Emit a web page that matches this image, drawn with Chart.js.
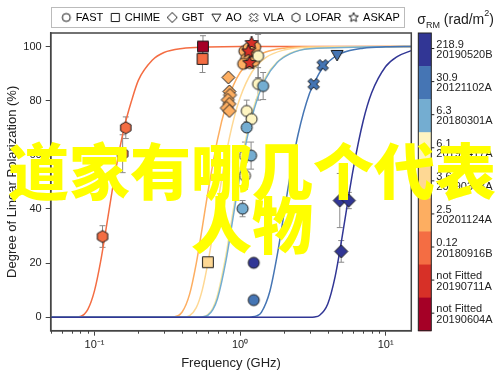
<!DOCTYPE html>
<html>
<head>
<meta charset="utf-8">
<script src="https://cdn.jsdelivr.net/npm/chart.js@4.4.1/dist/chart.umd.min.js"></script>
<style>
  html, body { margin: 0; padding: 0; background: #fff; }
  #wrap { position: relative; width: 500px; height: 378px; }
  #mark {
    position: absolute; left: 2px; top: 142px; width: 500px;
    text-align: center; color: #ffff00;
    font-family: "Noto Sans CJK SC", sans-serif; font-weight: 900;
    font-size: 61px; line-height: 54px; pointer-events: none;
  }
</style>
</head>
<body>
<div id="wrap">
  <canvas id="myChart" width="500" height="378"></canvas>
  <div id="mark">道家有哪几个代表<br>人物</div>
</div>
<script>
// FRBs, ordered as in the colour bar (top to bottom)
const frbNames = ['20190520B', '20121102A', '20180301A', '20190417A', '20190303A', '20201124A', '20180916B', '20190711A', '20190604A'];
const frbSigma = ['218.9', '30.9', '6.3', '6.1', '3.6', '2.5', '0.12', 'not Fitted', 'not Fitted'];
const frbColors = ['#313695', '#4575b4', '#74add1', '#fef5c2', '#fed894', '#fdae61', '#f46d43', '#d73027', '#a50026'];

// measurements per telescope (freq in GHz, PL in %, err = half bar, frb = index above)
const fastFreq = [1.07, 1.14, 1.21, 1.10, 1.17, 1.05, 1.27, 1.25, 1.33, 1.33, 1.11, 1.20, 1.08, 1.08, 1.44, 1.11, 1.19, 1.04, 1.24, 1.24];
const fastPol  = [98.3, 99.4, 97.6, 95.4, 93.9, 93.6, 99.8, 94.7, 96.5, 86.2, 76.2, 73.2, 59.7, 52.3, 85.4, 70.1, 59.7, 40.1, 20.1, 6.3];
const fastErr  = [0, 0, 0, 0, 0, 0, 0, 0, 8, 6, 4, 0, 5, 5, 5, 0, 5, 3, 0, 0];
const fastFrb  = [5, 5, 5, 5, 5, 5, 5, 5, 3, 3, 3, 3, 3, 3, 2, 2, 2, 2, 0, 1];

const chimeFreq = [0.556, 0.552, 0.601];
const chimePol  = [100, 95.4, 20.3];
const chimeErr  = [4, 5, 0];
const chimeFrb  = [8, 6, 4];

const gbtFreq = [0.830, 0.844, 0.853, 0.823, 0.844, 0.809, 0.844, 4.84, 5.58, 4.95];
const gbtPol  = [88.6, 83.4, 82.1, 80.3, 78.8, 77.3, 76.2, 43.1, 43.1, 24.3];
const gbtErr  = [0, 0, 0, 0, 0, 0, 0, 10, 3, 4];
const gbtFrb  = [5, 5, 5, 5, 5, 5, 5, 0, 0, 0];

const aoFreq = [4.64];
const aoPol  = [96.9];
const aoErr  = [0];
const aoFrb  = [1];

const vlaFreq = [3.2, 3.69];
const vlaPol  = [86.1, 93.1];
const vlaErr  = [0, 0];
const vlaFrb  = [1, 1];

const lofarFreq = [0.1135, 0.156, 0.164];
const lofarPol  = [29.8, 60.4, 70.0];
const lofarErr  = [4, 7, 4];
const lofarFrb  = [6, 6, 6];

const askapFreq = [1.20, 1.14, 1.16];
const askapPol  = [101.3, 98.2, 93.9];
const askapErr  = [0, 0, 0];
const askapFrb  = [7, 7, 7];

// depolarization fits
const fit0916Freq = [0.05, 0.07, 0.08, 0.09, 0.10, 0.11, 0.12, 0.13, 0.14, 0.16, 0.18, 0.20, 0.25, 0.30, 0.40, 0.60, 1, 15];
const fit0916Pol  = [0, 0, 0.3, 2.9, 9.8, 20.4, 32.6, 44.3, 54.6, 70.1, 80.1, 87.5, 95.0, 97.8, 99.3, 99.8, 100, 100];
const fit1124Freq = [0.05, 0.3, 0.35, 0.4, 0.45, 0.5, 0.55, 0.6, 0.7, 0.8, 0.9, 1.0, 1.2, 1.5, 2.0, 3.0, 15];
const fit1124Pol  = [0, 0, 0.1, 1.9, 8.5, 19.9, 33.2, 45.9, 65.7, 78.2, 85.7, 90.4, 95.2, 98.0, 99.4, 99.9, 100];
const fit0303Freq = [0.05, 0.4, 0.45, 0.5, 0.55, 0.6, 0.65, 0.7, 0.8, 0.9, 1.0, 1.2, 1.5, 2.0, 3.0, 15];
const fit0303Pol  = [0, 0, 0.6, 3.5, 10.1, 19.9, 30.9, 41.8, 60.0, 72.7, 81.1, 90.4, 95.9, 98.7, 99.7, 100];
const fit0417Freq = [0.05, 0.5, 0.55, 0.6, 0.65, 0.7, 0.8, 0.9, 1.0, 1.1, 1.2, 1.3, 1.5, 1.8, 2.2, 3.0, 15];
const fit0417Pol  = [0, 0, 0.1, 1.0, 3.4, 8.2, 23.0, 40.0, 54.8, 66.3, 74.8, 81.0, 88.8, 94.4, 97.5, 99.3, 100];
const fit0301Freq = [0.05, 0.5, 0.55, 0.6, 0.65, 0.7, 0.8, 0.9, 1.0, 1.1, 1.2, 1.3, 1.5, 1.8, 2.2, 3.0, 15];
const fit0301Pol  = [0, 0, 0.1, 0.7, 2.8, 6.9, 20.9, 37.6, 52.7, 64.5, 73.4, 79.9, 88.1, 94.1, 97.3, 99.2, 100];
const fit1102Freq = [0.05, 1.1, 1.2, 1.3, 1.4, 1.6, 1.8, 2.0, 2.2, 2.5, 3.0, 3.5, 4.0, 5.0, 7.0, 10, 15];
const fit1102Pol  = [0, 0, 0.1, 0.5, 1.8, 9.5, 23.0, 38.1, 51.8, 67.4, 82.7, 90.2, 94.2, 97.6, 99.4, 99.9, 100];
const fit0520Freq = [0.05, 3.0, 3.25, 3.5, 4.0, 4.5, 5.0, 5.5, 6.0, 7.0, 8.0, 10, 12, 15];
const fit0520Pol  = [0, 0, 0.1, 0.6, 4.9, 15.1, 29.0, 42.9, 55.0, 72.4, 82.8, 92.6, 96.3, 98.5];

// axis ticks
const xMajorTicks = [0.1, 1, 10];
const xTickLabels = ['10\u207B\u00B9', '10\u2070', '10\u00B9'];
const xMinorTicks = [0.05, 0.06, 0.07, 0.08, 0.09, 0.2, 0.3, 0.4, 0.5, 0.6, 0.7, 0.8, 0.9, 2, 3, 4, 5, 6, 7, 8, 9];
const yTicks = [0, 20, 40, 60, 80, 100];

const instNames = ['FAST', 'CHIME', 'GBT', 'AO', 'VLA', 'LOFAR', 'ASKAP'];

function makeMarker(shape, fill, size) {
  const d = Math.ceil(size + 4);
  const c = document.createElement('canvas');
  c.width = d; c.height = d;
  const g = c.getContext('2d');
  const m = d / 2, r = size / 2;
  let pts = [];
  g.beginPath();
  if (shape === 'circle') {
    g.arc(m, m, r, 0, Math.PI * 2);
  } else {
    if (shape === 'square') pts = [[-r, -r], [r, -r], [r, r], [-r, r]].map(p => [p[0] * 0.9, p[1] * 0.9]);
    else if (shape === 'diamond') pts = [[0, -r], [r, 0], [0, r], [-r, 0]];
    else if (shape === 'triangleDown') pts = [[-r, -r * 0.75], [r, -r * 0.75], [0, r]];
    else if (shape === 'hexagon') {
      for (let k = 0; k < 6; k++) { const t = -Math.PI / 2 + k * Math.PI / 3; pts.push([r * Math.cos(t), r * Math.sin(t)]); }
    } else if (shape === 'star') {
      for (let k = 0; k < 10; k++) { const t = -Math.PI / 2 + k * Math.PI / 5; const rr = k % 2 ? r * 0.45 : r; pts.push([rr * Math.cos(t), rr * Math.sin(t)]); }
    } else if (shape === 'x') {
      const a = r * 0.34;
      const plus = [[a, -r], [a, -a], [r, -a], [r, a], [a, a], [a, r], [-a, r], [-a, a], [-r, a], [-r, -a], [-a, -a], [-a, -r]];
      pts = plus.map(([px, py]) => [(px - py) * Math.SQRT1_2, (px + py) * Math.SQRT1_2]);
    }
    pts.forEach(([px, py], k) => k ? g.lineTo(m + px, m + py) : g.moveTo(m + px, m + py));
    g.closePath();
  }
  g.fillStyle = fill;
  g.fill();
  g.lineWidth = 1;
  g.strokeStyle = '#1a1a1a';
  g.stroke();
  return c;
}

const pointSets = [
  { name: 'ASKAP', shape: 'star', size: 14, lsize: 10, freq: askapFreq, pol: askapPol, err: askapErr, frb: askapFrb },
  { name: 'FAST', shape: 'circle', size: 11, lsize: 8, freq: fastFreq, pol: fastPol, err: fastErr, frb: fastFrb },
  { name: 'VLA', shape: 'x', size: 12, lsize: 9, freq: vlaFreq, pol: vlaPol, err: vlaErr, frb: vlaFrb },
  { name: 'AO', shape: 'triangleDown', size: 12, lsize: 9, freq: aoFreq, pol: aoPol, err: aoErr, frb: aoFrb },
  { name: 'GBT', shape: 'diamond', size: 13, lsize: 10, freq: gbtFreq, pol: gbtPol, err: gbtErr, frb: gbtFrb },
  { name: 'CHIME', shape: 'square', size: 12, lsize: 9, freq: chimeFreq, pol: chimePol, err: chimeErr, frb: chimeFrb },
  { name: 'LOFAR', shape: 'hexagon', size: 12, lsize: 9, freq: lofarFreq, pol: lofarPol, err: lofarErr, frb: lofarFrb }
];

const fits = [
  { freq: fit0520Freq, pol: fit0520Pol, frb: 0 },
  { freq: fit1102Freq, pol: fit1102Pol, frb: 1 },
  { freq: fit0301Freq, pol: fit0301Pol, frb: 2 },
  { freq: fit0417Freq, pol: fit0417Pol, frb: 3 },
  { freq: fit0303Freq, pol: fit0303Pol, frb: 4 },
  { freq: fit1124Freq, pol: fit1124Pol, frb: 5 },
  { freq: fit0916Freq, pol: fit0916Pol, frb: 6 }
];

const datasets = [];
pointSets.forEach((s, i) => {
  datasets.push({
    label: s.name,
    data: s.freq.map((f, k) => ({ x: f, y: s.pol[k] })),
    errs: s.err,
    pointStyle: s.frb.map(k => makeMarker(s.shape, frbColors[k], s.size)),
    pointRadius: 6,
    showLine: false,
    order: i
  });
});
fits.forEach((f, i) => {
  datasets.push({
    label: 'fit ' + frbNames[f.frb],
    data: f.freq.map((v, k) => ({ x: v, y: f.pol[k] })),
    showLine: true,
    borderColor: frbColors[f.frb] === '#fef5c2' ? '#f7e7a0' : frbColors[f.frb],
    borderWidth: 1.5,
    pointRadius: 0,
    cubicInterpolationMode: 'monotone',
    order: 10 + i
  });
});

const legendMarkers = instNames.map(n => {
  const s = pointSets.find(p => p.name === n);
  return makeMarker(s.shape, '#fff', s.lsize);
});

const extras = {
  id: 'extras',
  beforeDatasetsDraw(chart) {
    const ctx = chart.ctx, x = chart.scales.x, y = chart.scales.y;
    ctx.save();
    ctx.strokeStyle = '#8a8a8a';
    ctx.lineWidth = 1;
    chart.data.datasets.forEach(ds => {
      if (!ds.errs) return;
      ds.data.forEach((p, k) => {
        const e = ds.errs[k];
        if (!e) return;
        const px = x.getPixelForValue(p.x);
        const t = y.getPixelForValue(p.y + e), b = y.getPixelForValue(p.y - e);
        ctx.beginPath();
        ctx.moveTo(px, t); ctx.lineTo(px, b);
        ctx.moveTo(px - 3, t); ctx.lineTo(px + 3, t);
        ctx.moveTo(px - 3, b); ctx.lineTo(px + 3, b);
        ctx.stroke();
      });
    });
    ctx.restore();
  },
  afterDraw(chart) {
    const ctx = chart.ctx, a = chart.chartArea, x = chart.scales.x;
    ctx.save();
    // frame
    ctx.strokeStyle = '#444';
    ctx.lineWidth = 1.5;
    ctx.strokeRect(a.left, a.top, a.right - a.left, a.bottom - a.top);
    // minor ticks
    ctx.lineWidth = 1;
    ctx.beginPath();
    xMinorTicks.forEach(v => {
      const px = Math.round(x.getPixelForValue(v)) + 0.5;
      ctx.moveTo(px, a.bottom); ctx.lineTo(px, a.bottom + 3);
    });
    ctx.stroke();
    // legend frame
    const hb = chart.legend.legendHitBoxes;
    if (hb && hb.length) {
      const l = Math.min(...hb.map(h => h.left)) - 11;
      const r = Math.max(...hb.map(h => h.left + h.width)) + 5;
      const t = hb[0].top - 5, h = hb[0].height + 9;
      ctx.strokeStyle = '#bbb';
      ctx.lineWidth = 1;
      ctx.strokeRect(Math.round(l) + 0.5, Math.round(t) + 0.5, Math.round(r - l), Math.round(h));
    }
    // colour bar
    const x0 = a.right + 7, w = 13;
    const segH = (a.bottom - a.top) / frbColors.length;
    frbColors.forEach((c, i) => {
      ctx.fillStyle = c;
      ctx.fillRect(x0, a.top + i * segH, w, segH + 0.5);
    });
    ctx.strokeStyle = '#222';
    ctx.strokeRect(x0, a.top, w, a.bottom - a.top);
    ctx.fillStyle = '#222';
    ctx.font = '11px "Liberation Sans", Arial, sans-serif';
    ctx.textBaseline = 'middle';
    ctx.textAlign = 'left';
    frbNames.forEach((n, i) => {
      const cy = a.top + (i + 0.5) * segH;
      ctx.beginPath();
      ctx.moveTo(x0 + w, cy - 1); ctx.lineTo(x0 + w + 3, cy - 1);
      ctx.stroke();
      ctx.fillText(frbSigma[i], x0 + w + 5, cy - 5);
      ctx.fillText(n, x0 + w + 5, cy + 5.5);
    });
    // colour bar title: sigma_RM (rad/m^2)
    ctx.textBaseline = 'alphabetic';
    let tx = x0 - 1;
    const big = '14px "Liberation Sans", Arial, sans-serif', small = '9px "Liberation Sans", Arial, sans-serif';
    const parts = [['\u03C3', big, 24], ['RM', small, 27.5], [' (rad/m', big, 24], ['2', small, 16], [')', big, 24]];
    parts.forEach(([s, f, by]) => {
      ctx.font = f;
      ctx.fillText(s, tx, by);
      tx += ctx.measureText(s).width;
    });
    ctx.restore();
  }
};

Chart.defaults.font.family = '"Liberation Sans", Arial, sans-serif';
Chart.defaults.color = '#222';

const ctx = document.getElementById('myChart').getContext('2d');
const myChart = new Chart(ctx, {
  type: 'scatter',
  data: { datasets: datasets },
  options: {
    responsive: false,
    animation: false,
    events: [],
    layout: { padding: { top: 4, right: 88.7, left: 0, bottom: 0 } },
    plugins: {
      tooltip: { enabled: false },
      legend: {
        position: 'top',
        fullSize: false,
        labels: {
          usePointStyle: true,
          boxWidth: 8,
          boxHeight: 10,
          padding: 8,
          font: { size: 11 },
          color: '#222',
          generateLabels: () => instNames.map((n, i) => ({
            text: n,
            pointStyle: legendMarkers[i],
            fillStyle: '#fff',
            strokeStyle: '#000',
            lineWidth: 0,
            hidden: false,
            datasetIndex: pointSets.findIndex(p => p.name === n)
          }))
        }
      }
    },
    scales: {
      x: {
        type: 'logarithmic',
        min: 0.05,
        max: 15,
        afterBuildTicks: s => { s.ticks = xMajorTicks.map(v => ({ value: v })); },
        afterFit: s => { s.height = 47.3; },
        ticks: {
          autoSkip: false,
          maxRotation: 0,
          padding: 3,
          font: { size: 11 },
          callback: v => xTickLabels[xMajorTicks.indexOf(v)]
        },
        grid: { display: true, drawOnChartArea: false, tickLength: 5, tickColor: '#444', tickWidth: 1 },
        border: { display: true, color: '#444', width: 1.5 },
        title: { display: true, text: 'Frequency (GHz)', font: { size: 13 }, padding: { top: 0, bottom: 7 } }
      },
      y: {
        min: -5,
        max: 105,
        afterBuildTicks: s => { s.ticks = yTicks.map(v => ({ value: v })); },
        afterFit: s => { s.width = 50.7; },
        ticks: { padding: 4, font: { size: 11 } },
        grid: { display: true, drawOnChartArea: false, tickLength: 5, tickColor: '#444', tickWidth: 1 },
        border: { display: true, color: '#444', width: 1.5 },
        title: { display: true, text: 'Degree of Linear Polarization (%)', font: { size: 13 }, padding: { top: 5, bottom: 0 } }
      }
    }
  },
  plugins: [extras]
});
</script>
</body>
</html>
